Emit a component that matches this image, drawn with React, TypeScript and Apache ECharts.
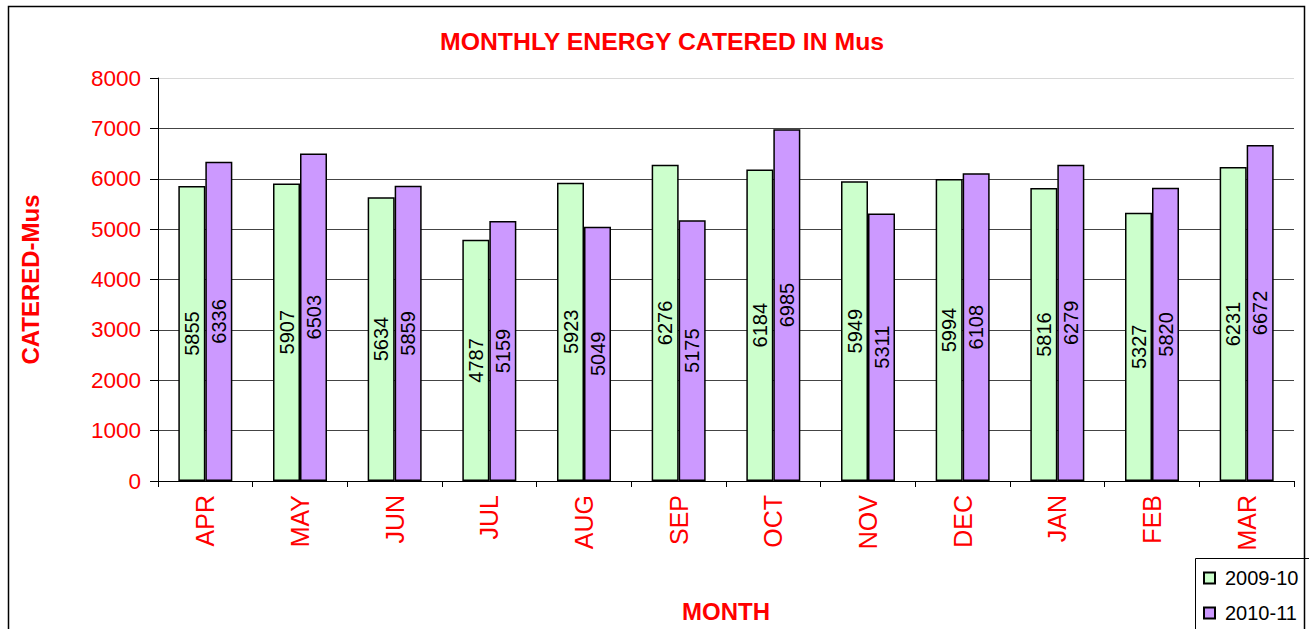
import React, { useEffect, useRef } from "react";
import * as echarts from "echarts";

const months = ["APR", "MAY", "JUN", "JUL", "AUG", "SEP", "OCT", "NOV", "DEC", "JAN", "FEB", "MAR"];
const series2009 = [5855, 5907, 5634, 4787, 5923, 6276, 6184, 5949, 5994, 5816, 5327, 6231];
const series2010 = [6336, 6503, 5859, 5159, 5049, 5175, 6985, 5311, 6108, 6279, 5820, 6672];
const seriesNames = ["2009-10", "2010-11"];
const FONT = "'Liberation Sans', Arial, sans-serif";

export default function App() {
  const ref = useRef<HTMLDivElement>(null);
  useEffect(() => {
    if (!ref.current) return;
    const chart = echarts.init(ref.current, null, { renderer: "svg" });
    const barLabel = {
      show: true,
      position: "inside",
      rotate: 90,
      color: "#000",
      fontSize: 20,
      fontFamily: FONT,
    };
    chart.setOption({
      animation: false,
      backgroundColor: "#fff",
      textStyle: { fontFamily: FONT },
      title: {
        text: "MONTHLY ENERGY CATERED IN Mus",
        left: 440,
        top: 29,
        padding: 0,
        textStyle: { color: "#ff0000", fontSize: 24.8, fontWeight: "bold", fontFamily: FONT },
      },
      graphic: [
        {
          type: "rect",
          shape: { x: 8.5, y: 6.5, width: 1296, height: 640 },
          style: { fill: "none", stroke: "#000", lineWidth: 1.5 },
          z: 100,
        },
        {
          type: "rect",
          shape: { x: 1195.5, y: 558.5, width: 120, height: 100 },
          style: { fill: "#fff", stroke: "#000", lineWidth: 1 },
          z: 1,
        },
      ],
      legend: {
        orient: "vertical",
        left: 1195,
        top: 558,
        padding: [10, 0, 0, 8],
        itemGap: 15,
        itemWidth: 11,
        itemHeight: 11,
        icon: "rect",
        z: 10,
        textStyle: { fontSize: 20, color: "#000", fontFamily: FONT, padding: [0, 0, 0, 5] },
        data: seriesNames,
      },
      grid: { left: 158, right: 15, top: 78, bottom: 148, containLabel: false },
      xAxis: {
        type: "category",
        data: months,
        name: "MONTH",
        nameLocation: "middle",
        nameGap: 118,
        nameTextStyle: { color: "#ff0000", fontSize: 24, fontWeight: "bold", fontFamily: FONT },
        axisLine: { lineStyle: { color: "#000", width: 1 } },
        axisTick: { show: true, length: 6, lineStyle: { color: "#000" } },
        axisLabel: { rotate: 90, color: "#ff0000", fontSize: 25, margin: 14, fontFamily: FONT },
      },
      yAxis: {
        type: "value",
        min: 0,
        max: 8000,
        interval: 1000,
        name: "CATERED-Mus",
        nameLocation: "middle",
        nameGap: 116,
        nameTextStyle: { color: "#ff0000", fontSize: 24, fontWeight: "bold", fontFamily: FONT },
        axisLine: { show: true, lineStyle: { color: "#000", width: 1 } },
        axisTick: { show: true, length: 8, lineStyle: { color: "#000" } },
        axisLabel: {
          color: "#ff0000",
          fontSize: 22.5,
          margin: 17,
          fontFamily: FONT,
          formatter: (v: number) => String(v),
        },
        splitLine: {
          show: true,
          lineStyle: {
            color: ["#444", "#444", "#444", "#444", "#444", "#444", "#444", "#444", "#d8d8d8"],
            width: 1,
          },
        },
      },
      series: [
        {
          name: seriesNames[0],
          type: "bar",
          data: series2009,
          barWidth: 27,
          barGap: "0%",
          itemStyle: { color: "#ccffcc", borderColor: "#000", borderWidth: 1.5 },
          label: barLabel,
        },
        {
          name: seriesNames[1],
          type: "bar",
          data: series2010,
          barWidth: 27,
          barGap: "0%",
          itemStyle: { color: "#cc99ff", borderColor: "#000", borderWidth: 1.5 },
          label: barLabel,
        },
      ],
    });
    return () => chart.dispose();
  }, []);
  return (
    <div
      ref={ref}
      style={{ position: "absolute", left: 0, top: 0, width: 1309, height: 629 }}
    />
  );
}
